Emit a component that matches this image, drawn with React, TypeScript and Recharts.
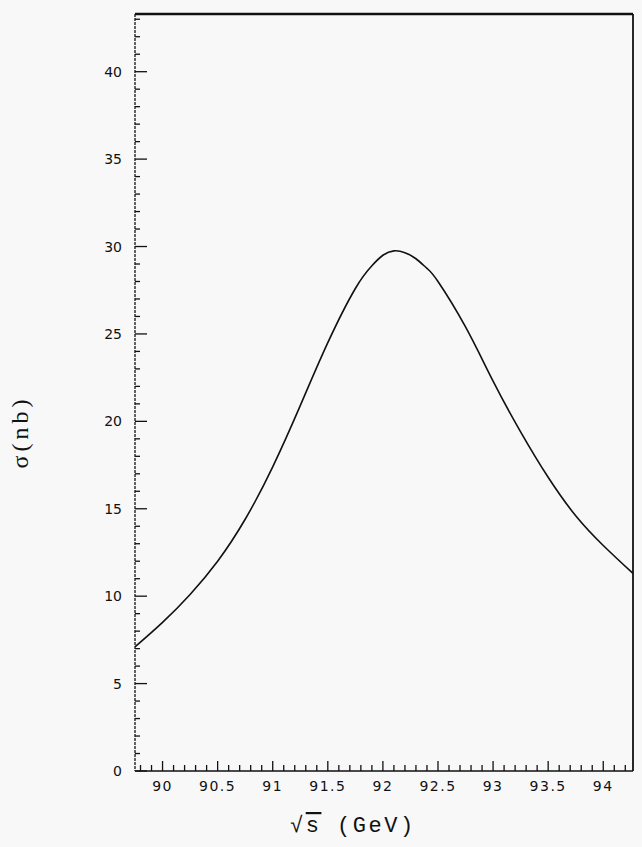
import { LineChart, Line, XAxis, YAxis, ReferenceLine } from 'recharts';

// sqrt(s) in GeV and sigma in nb
const energy = [89.75, 90.0, 90.25, 90.5, 90.75, 91.0, 91.25, 91.5, 91.75, 91.9, 92.0, 92.1, 92.2, 92.3, 92.4, 92.5, 92.75, 93.0, 93.25, 93.5, 93.75, 94.0, 94.27];
const sigma = [7.1, 8.5, 10.1, 12.0, 14.4, 17.4, 20.9, 24.5, 27.6, 28.9, 29.5, 29.75, 29.65, 29.3, 28.75, 28.0, 25.4, 22.3, 19.4, 16.8, 14.6, 12.9, 11.3];

const xMajorLabels = ['90', '90.5', '91', '91.5', '92', '92.5', '93', '93.5', '94'];
const yMajorLabels = ['0', '5', '10', '15', '20', '25', '30', '35', '40'];

const X_MIN = 89.75;
const X_MAX = 94.27;
const Y_MAX = 43.3;

// minor ticks every 0.1 GeV and every 1 nb
const xTicks: number[] = [];
for (let i = 898; i <= 942; i++) xTicks.push(i / 10);
const yTicks: number[] = [];
for (let i = 0; i <= 43; i++) yTicks.push(i);

const data = energy.map((e, i) => ({ e, s: sigma[i] }));

const INK = '#111';

function XTick(props: any) {
  const { x, y, payload } = props;
  const v = payload.value as number;
  const label = xMajorLabels.find((l) => Math.abs(parseFloat(l) - v) < 1e-6);
  return (
    <g>
      <line x1={x} x2={x} y1={y} y2={y - (label ? 10 : 6)} stroke={INK} strokeWidth={1.3} />
      {label && (
        <text x={x} y={y + 20} textAnchor="middle" fill={INK} fontSize={14} letterSpacing={1.5}
          fontFamily="DejaVu Sans">{label}</text>
      )}
    </g>
  );
}

function YTick(props: any) {
  const { x, y, payload } = props;
  const v = payload.value as number;
  const label = yMajorLabels.find((l) => parseFloat(l) === v);
  return (
    <g>
      <line x1={x} x2={x + (label ? 12 : 5)} y1={y} y2={y} stroke={INK} strokeWidth={1.3} />
      {label && (
        <text x={x - 13} y={y + 5} textAnchor="end" fill={INK} fontSize={14}
          fontFamily="DejaVu Sans">{label}</text>
      )}
    </g>
  );
}

function XLabel() {
  return (
    <text x={282} y={824} fill={INK} fontSize={22} fontFamily="Liberation Mono" letterSpacing={2.5}>
      √<tspan style={{ textDecoration: 'overline' }}>s</tspan>{'  (GeV)'}
    </text>
  );
}

function YLabel() {
  return (
    <text x={20} y={424} transform="rotate(-90 20 424)" textAnchor="middle" fill={INK} fontSize={24}
      letterSpacing={4} fontFamily="Liberation Serif">σ(nb)</text>
  );
}

export default function App() {
  document.body.style.background = '#f8f8f8';
  return (
    <div style={{ width: 634, height: 831 }}>
      <LineChart width={634} height={831} data={data} margin={{ top: 6, right: 9, left: 0, bottom: 0 }}>
        <XAxis
          dataKey="e"
          type="number"
          domain={[X_MIN, X_MAX]}
          ticks={xTicks}
          interval={0}
          allowDataOverflow
          height={68}
          tickSize={0}
          tickMargin={0}
          tickLine={false}
          axisLine={{ stroke: INK, strokeWidth: 1.5 }}
          tick={<XTick />}
        />
        <YAxis
          type="number"
          domain={[0, Y_MAX]}
          ticks={yTicks}
          interval={0}
          allowDataOverflow
          width={127}
          tickSize={0}
          tickMargin={0}
          tickLine={false}
          axisLine={{ stroke: INK, strokeWidth: 1.3, strokeDasharray: '3 1' }}
          tick={<YTick />}
        />
        <ReferenceLine y={Y_MAX} stroke={INK} strokeWidth={2.5} />
        <ReferenceLine x={X_MAX} stroke={INK} strokeWidth={1.8} />
        <Line
          dataKey="s"
          type="natural"
          stroke={INK}
          strokeWidth={1.6}
          dot={false}
          isAnimationActive={false}
        />
        <XLabel />
        <YLabel />
      </LineChart>
    </div>
  );
}
